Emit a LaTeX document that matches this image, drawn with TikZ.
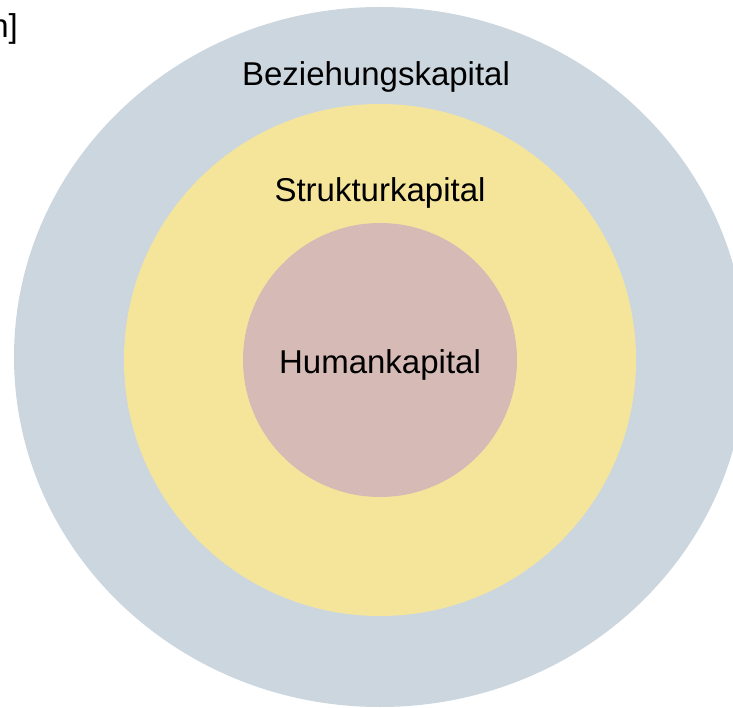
\documentclass[tikz,border=0pt]{standalone}
\usepackage{fontspec}
\setmainfont{Liberation Sans}
\usepackage{tikz}

\definecolor{beziehung}{RGB}{203,214,223}
\definecolor{struktur}{RGB}{245,229,155}
\definecolor{human}{RGB}{214,186,181}

\begin{document}
\begin{tikzpicture}[x=1pt, y=-1pt]
	\clip (0,0) rectangle (733,708);
	\fill [beziehung] (380,357) ellipse [x radius=366, y radius=350];
	\fill [struktur] (380,360) circle [radius=256];
	\fill [human] (380,360) circle [radius=137];
	\begin{scope}[every node/.style = {anchor=base, inner sep=0pt,
			font=\fontsize{33}{40}\selectfont}]
		\node (Q) [anchor=base east] at (18,38) {h]};
		\node (BK) at (376,86) {Beziehungskapital};
		\node (SK) at (380,202) {Strukturkapital};
		\node (HK) at (380,373) {Humankapital};
	\end{scope}
\end{tikzpicture}
\end{document}
